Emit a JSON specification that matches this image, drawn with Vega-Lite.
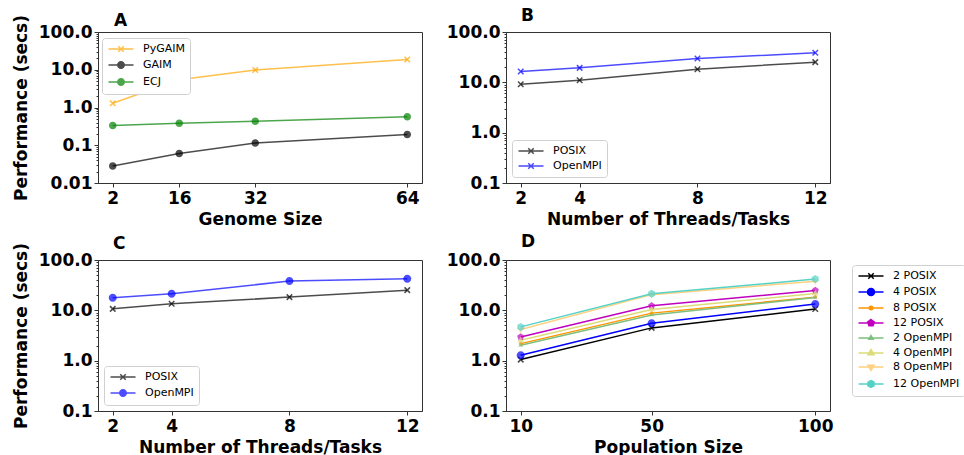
{
  "$schema": "https://vega.github.io/schema/vega-lite/v6.json",
  "autosize": {"type": "pad"},
  "padding": {"left": 11, "top": 6, "right": 5, "bottom": 3},
  "background": "white",
  "config": {
    "font": "DejaVu Sans",
    "view": {"stroke": "#333", "strokeWidth": 1},
    "axis": {"grid": false, "labelFontSize": 17, "labelFontWeight": "bold", "labelColor": "#000", "titleFontSize": 17, "titleFontWeight": "bold", "titleColor": "#000", "domainColor": "#333", "tickColor": "#333", "labelOverlap": false, "labelFlush": false},
    "axisX": {"tickSize": 4, "labelPadding": 3, "titlePadding": 5},
    "axisY": {"labelPadding": 2, "titlePadding": 8},
    "title": {"fontSize": 17, "fontWeight": "bold", "color": "#000"},
    "legend": {"labelFontSize": 11, "labelColor": "#000", "strokeColor": "#d0d0d0", "fillColor": "white", "padding": 5, "cornerRadius": 3, "symbolSize": 100, "rowPadding": 3, "labelOffset": 16, "symbolOffset": 8}
  },
  "datasets": {
    "a": [
      {"genome_size": 2, "seconds": 1.29, "series": "PyGAIM"},
      {"genome_size": 16, "seconds": 5.4, "series": "PyGAIM"},
      {"genome_size": 32, "seconds": 9.9, "series": "PyGAIM"},
      {"genome_size": 64, "seconds": 18.7, "series": "PyGAIM"},
      {"genome_size": 2, "seconds": 0.0283, "series": "GAIM"},
      {"genome_size": 16, "seconds": 0.0605, "series": "GAIM"},
      {"genome_size": 32, "seconds": 0.114, "series": "GAIM"},
      {"genome_size": 64, "seconds": 0.194, "series": "GAIM"},
      {"genome_size": 2, "seconds": 0.336, "series": "ECJ"},
      {"genome_size": 16, "seconds": 0.38, "series": "ECJ"},
      {"genome_size": 32, "seconds": 0.43, "series": "ECJ"},
      {"genome_size": 64, "seconds": 0.569, "series": "ECJ"}
    ],
    "b": [
      {"threads": 2, "seconds": 9.2, "series": "POSIX"},
      {"threads": 4, "seconds": 11.0, "series": "POSIX"},
      {"threads": 8, "seconds": 18.2, "series": "POSIX"},
      {"threads": 12, "seconds": 25.2, "series": "POSIX"},
      {"threads": 2, "seconds": 16.4, "series": "OpenMPI"},
      {"threads": 4, "seconds": 19.4, "series": "OpenMPI"},
      {"threads": 8, "seconds": 29.7, "series": "OpenMPI"},
      {"threads": 12, "seconds": 38.6, "series": "OpenMPI"}
    ],
    "c": [
      {"threads": 2, "seconds": 10.7, "series": "POSIX"},
      {"threads": 4, "seconds": 13.5, "series": "POSIX"},
      {"threads": 8, "seconds": 18.3, "series": "POSIX"},
      {"threads": 12, "seconds": 25.2, "series": "POSIX"},
      {"threads": 2, "seconds": 17.7, "series": "OpenMPI"},
      {"threads": 4, "seconds": 21.3, "series": "OpenMPI"},
      {"threads": 8, "seconds": 38.2, "series": "OpenMPI"},
      {"threads": 12, "seconds": 42.5, "series": "OpenMPI"}
    ],
    "d": [
      {"population": 10, "seconds": 1.05, "series": "2 POSIX"},
      {"population": 50, "seconds": 4.48, "series": "2 POSIX"},
      {"population": 100, "seconds": 10.6, "series": "2 POSIX"},
      {"population": 10, "seconds": 1.28, "series": "4 POSIX"},
      {"population": 50, "seconds": 5.56, "series": "4 POSIX"},
      {"population": 100, "seconds": 13.3, "series": "4 POSIX"},
      {"population": 10, "seconds": 2.18, "series": "8 POSIX"},
      {"population": 50, "seconds": 8.8, "series": "8 POSIX"},
      {"population": 100, "seconds": 18.3, "series": "8 POSIX"},
      {"population": 10, "seconds": 2.96, "series": "12 POSIX"},
      {"population": 50, "seconds": 12.3, "series": "12 POSIX"},
      {"population": 100, "seconds": 24.8, "series": "12 POSIX"},
      {"population": 10, "seconds": 2.02, "series": "2 OpenMPI"},
      {"population": 50, "seconds": 8.1, "series": "2 OpenMPI"},
      {"population": 100, "seconds": 18.0, "series": "2 OpenMPI"},
      {"population": 10, "seconds": 2.55, "series": "4 OpenMPI"},
      {"population": 50, "seconds": 10.4, "series": "4 OpenMPI"},
      {"population": 100, "seconds": 21.6, "series": "4 OpenMPI"},
      {"population": 10, "seconds": 4.15, "series": "8 OpenMPI"},
      {"population": 50, "seconds": 20.5, "series": "8 OpenMPI"},
      {"population": 100, "seconds": 38.0, "series": "8 OpenMPI"},
      {"population": 10, "seconds": 4.69, "series": "12 OpenMPI"},
      {"population": 50, "seconds": 21.3, "series": "12 OpenMPI"},
      {"population": 100, "seconds": 41.7, "series": "12 OpenMPI"}
    ]
  },
  "resolve": {"scale": {"x": "independent", "y": "independent", "color": "independent", "opacity": "independent"}, "legend": {"color": "independent"}},
  "columns": 2,
  "spacing": {"row": 4, "column": 22},
  "concat": [
    {
      "width": 324, "height": 151,
      "title": {"text": "A", "anchor": "start", "frame": "group", "dx": 16, "offset": -16},
      "data": {"name": "a"},
      "encoding": {
        "x": {"field": "genome_size", "type": "quantitative", "scale": {"domain": [-1.1, 67.1], "nice": false, "zero": false}, "axis": {"values": [2, 16, 32, 64], "title": "Genome Size"}},
        "y": {"field": "seconds", "type": "quantitative", "scale": {"type": "log", "domain": [0.01, 100], "nice": false},
          "axis": {"title": "Performance (secs)", "values": [0.01,0.02,0.03,0.04,0.05,0.06,0.07,0.08,0.09,0.1,0.2,0.3,0.4,0.5,0.6,0.7,0.8,0.9,1,2,3,4,5,6,7,8,9,10,20,30,40,50,60,70,80,90,100],
            "labelExpr": "abs(log(datum.value)/LN10 - round(log(datum.value)/LN10)) < 0.001 ? (datum.value < 0.05 ? format(datum.value, '.2f') : format(datum.value, '.1f')) : ''",
            "tickSize": {"condition": {"test": "abs(log(datum.value)/LN10 - round(log(datum.value)/LN10)) < 0.001", "value": 4}, "value": 2}}},
        "color": {"field": "series", "type": "nominal", "scale": {"domain": ["PyGAIM", "GAIM", "ECJ"], "range": ["#ffa500", "#000000", "#008000"]},
          "legend": {"title": null, "orient": "none", "legendX": 4, "legendY": 6,
            "encode": {"symbols": {"update": {
              "shape": {"signal": "datum.value === 'PyGAIM' ? 'M-2.5,0H2.5M-0.55,-0.55L0.55,0.55M-0.55,0.55L0.55,-0.55' : 'M-2.5,0H2.5M0.65,0A0.65,0.65,0,1,1,-0.65,0A0.65,0.65,0,1,1,0.65,0Z'"},
              "fill": {"signal": "datum.value === 'PyGAIM' ? '#ffa500' : datum.value === 'GAIM' ? '#000000' : '#008000'"},
              "stroke": {"signal": "datum.value === 'PyGAIM' ? '#ffa500' : datum.value === 'GAIM' ? '#000000' : '#008000'"},
              "opacity": {"value": 0.7}, "fillOpacity": {"value": 1}, "strokeWidth": {"value": 1.5}}}}}},
        "opacity": {"field": "series", "type": "nominal", "scale": {"domain": ["PyGAIM", "GAIM", "ECJ"], "range": [0.7, 0.7, 0.7]}, "legend": null}
      },
      "layer": [
        {"mark": {"type": "line", "strokeWidth": 1.5}},
        {"transform": [{"filter": {"field": "series", "equal": "PyGAIM"}}], "mark": {"type": "point", "filled": true, "size": 100, "strokeWidth": 1.5, "stroke": "#ffa500", "shape": "M-0.55,-0.55L0.55,0.55M-0.55,0.55L0.55,-0.55"}},
        {"transform": [{"filter": {"field": "series", "oneOf": ["GAIM", "ECJ"]}}], "mark": {"type": "point", "filled": true, "size": 100, "strokeWidth": 0, "shape": "M0.75,0A0.75,0.75,0,1,1,-0.75,0A0.75,0.75,0,1,1,0.75,0Z"}}
      ]
    },
    {
      "width": 324, "height": 151,
      "title": {"text": "B", "anchor": "start", "frame": "group", "dx": 15, "offset": -2},
      "data": {"name": "b"},
      "encoding": {
        "x": {"field": "threads", "type": "quantitative", "scale": {"domain": [1.5, 12.5], "nice": false, "zero": false}, "axis": {"values": [2, 4, 8, 12], "title": "Number of Threads/Tasks"}},
        "y": {"field": "seconds", "type": "quantitative", "scale": {"type": "log", "domain": [0.1, 100], "nice": false},
          "axis": {"title": null, "values": [0.1,0.2,0.3,0.4,0.5,0.6,0.7,0.8,0.9,1,2,3,4,5,6,7,8,9,10,20,30,40,50,60,70,80,90,100],
            "labelExpr": "abs(log(datum.value)/LN10 - round(log(datum.value)/LN10)) < 0.001 ? format(datum.value, '.1f') : ''",
            "tickSize": {"condition": {"test": "abs(log(datum.value)/LN10 - round(log(datum.value)/LN10)) < 0.001", "value": 4}, "value": 2}}},
        "color": {"field": "series", "type": "nominal", "scale": {"domain": ["POSIX", "OpenMPI"], "range": ["#000000", "#0000ff"]},
          "legend": {"title": null, "orient": "bottom-left", "offset": 6,
            "encode": {"symbols": {"update": {
              "shape": {"value": "M-2.5,0H2.5M-0.55,-0.55L0.55,0.55M-0.55,0.55L0.55,-0.55"},
              "fill": {"signal": "datum.value === 'POSIX' ? '#000000' : '#0000ff'"},
              "stroke": {"signal": "datum.value === 'POSIX' ? '#000000' : '#0000ff'"},
              "opacity": {"value": 0.7}, "fillOpacity": {"value": 1}, "strokeWidth": {"value": 1.5}}}}}},
        "opacity": {"field": "series", "type": "nominal", "scale": {"domain": ["POSIX", "OpenMPI"], "range": [0.7, 0.7]}, "legend": null}
      },
      "layer": [
        {"mark": {"type": "line", "strokeWidth": 1.5}},
        {"transform": [{"filter": {"field": "series", "equal": "POSIX"}}], "mark": {"type": "point", "filled": true, "size": 100, "strokeWidth": 1.5, "stroke": "#000000", "shape": "M-0.55,-0.55L0.55,0.55M-0.55,0.55L0.55,-0.55"}},
        {"transform": [{"filter": {"field": "series", "equal": "OpenMPI"}}], "mark": {"type": "point", "filled": true, "size": 100, "strokeWidth": 1.5, "stroke": "#0000ff", "shape": "M-0.55,-0.55L0.55,0.55M-0.55,0.55L0.55,-0.55"}}
      ]
    },
    {
      "width": 324, "height": 151,
      "title": {"text": "C", "anchor": "start", "frame": "group", "dx": 15, "offset": -11},
      "data": {"name": "c"},
      "encoding": {
        "x": {"field": "threads", "type": "quantitative", "scale": {"domain": [1.5, 12.5], "nice": false, "zero": false}, "axis": {"values": [2, 4, 8, 12], "title": "Number of Threads/Tasks"}},
        "y": {"field": "seconds", "type": "quantitative", "scale": {"type": "log", "domain": [0.1, 100], "nice": false},
          "axis": {"title": "Performance (secs)", "values": [0.1,0.2,0.3,0.4,0.5,0.6,0.7,0.8,0.9,1,2,3,4,5,6,7,8,9,10,20,30,40,50,60,70,80,90,100],
            "labelExpr": "abs(log(datum.value)/LN10 - round(log(datum.value)/LN10)) < 0.001 ? format(datum.value, '.1f') : ''",
            "tickSize": {"condition": {"test": "abs(log(datum.value)/LN10 - round(log(datum.value)/LN10)) < 0.001", "value": 4}, "value": 2}}},
        "color": {"field": "series", "type": "nominal", "scale": {"domain": ["POSIX", "OpenMPI"], "range": ["#000000", "#0000ff"]},
          "legend": {"title": null, "orient": "bottom-left", "offset": 6,
            "encode": {"symbols": {"update": {
              "shape": {"signal": "datum.value === 'POSIX' ? 'M-2.5,0H2.5M-0.55,-0.55L0.55,0.55M-0.55,0.55L0.55,-0.55' : 'M-2.5,0H2.5M0.65,0A0.65,0.65,0,1,1,-0.65,0A0.65,0.65,0,1,1,0.65,0Z'"},
              "fill": {"signal": "datum.value === 'POSIX' ? '#000000' : '#0000ff'"},
              "stroke": {"signal": "datum.value === 'POSIX' ? '#000000' : '#0000ff'"},
              "opacity": {"value": 0.7}, "fillOpacity": {"value": 1}, "strokeWidth": {"value": 1.5}}}}}},
        "opacity": {"field": "series", "type": "nominal", "scale": {"domain": ["POSIX", "OpenMPI"], "range": [0.7, 0.7]}, "legend": null}
      },
      "layer": [
        {"mark": {"type": "line", "strokeWidth": 1.5}},
        {"transform": [{"filter": {"field": "series", "equal": "POSIX"}}], "mark": {"type": "point", "filled": true, "size": 100, "strokeWidth": 1.5, "stroke": "#000000", "shape": "M-0.55,-0.55L0.55,0.55M-0.55,0.55L0.55,-0.55"}},
        {"transform": [{"filter": {"field": "series", "equal": "OpenMPI"}}], "mark": {"type": "point", "filled": true, "size": 100, "strokeWidth": 0, "shape": "M0.8,0A0.8,0.8,0,1,1,-0.8,0A0.8,0.8,0,1,1,0.8,0Z"}}
      ]
    },
    {
      "width": 324, "height": 151,
      "title": {"text": "D", "anchor": "start", "frame": "group", "dx": 15, "offset": 0},
      "data": {"name": "d"},
      "encoding": {
        "x": {"field": "population", "type": "quantitative", "scale": {"domain": [5.5, 104.5], "nice": false, "zero": false}, "axis": {"values": [10, 50, 100], "title": "Population Size"}},
        "y": {"field": "seconds", "type": "quantitative", "scale": {"type": "log", "domain": [0.1, 100], "nice": false},
          "axis": {"title": null, "values": [0.1,0.2,0.3,0.4,0.5,0.6,0.7,0.8,0.9,1,2,3,4,5,6,7,8,9,10,20,30,40,50,60,70,80,90,100],
            "labelExpr": "abs(log(datum.value)/LN10 - round(log(datum.value)/LN10)) < 0.001 ? format(datum.value, '.1f') : ''",
            "tickSize": {"condition": {"test": "abs(log(datum.value)/LN10 - round(log(datum.value)/LN10)) < 0.001", "value": 4}, "value": 2}}},
        "color": {"field": "series", "type": "nominal", "scale": {"domain": ["2 POSIX", "4 POSIX", "8 POSIX", "12 POSIX", "2 OpenMPI", "4 OpenMPI", "8 OpenMPI", "12 OpenMPI"], "range": ["#000000", "#0000ff", "#ff9500", "#bf00bf", "#7fbf7f", "#dcdc7a", "#ffd080", "#55d2c6"]},
          "legend": {"title": null, "orient": "none", "legendX": 346, "legendY": 5,
            "encode": {"symbols": {"update": {
              "shape": {"signal": "datum.value === '2 POSIX' ? 'M-2.5,0H2.5M-0.55,-0.55L0.55,0.55M-0.55,0.55L0.55,-0.55' : datum.value === '4 POSIX' ? 'M-2.5,0H2.5M0.7,0A0.7,0.7,0,1,1,-0.7,0A0.7,0.7,0,1,1,0.7,0Z' : datum.value === '8 POSIX' ? 'M-2.5,0H2.5M0.35,0A0.35,0.35,0,1,1,-0.35,0A0.35,0.35,0,1,1,0.35,0Z' : datum.value === '12 POSIX' ? 'M-2.5,0H2.5M0,-0.7L0.666,-0.216L0.411,0.566L-0.411,0.566L-0.666,-0.216Z' : datum.value === '2 OpenMPI' ? 'M-2.5,0H2.5M0,-0.5L0.433,0.25L-0.433,0.25Z' : datum.value === '4 OpenMPI' ? 'M-2.5,0H2.5M0,-0.7L0.606,0.35L-0.606,0.35Z' : datum.value === '8 OpenMPI' ? 'M-2.5,0H2.5M0,0.7L0.606,-0.35L-0.606,-0.35Z' : 'M-2.5,0H2.5M0,-0.7L0.606,-0.35L0.606,0.35L0,0.7L-0.606,0.35L-0.606,-0.35Z'"},
              "fill": {"signal": "datum.value === '2 POSIX' ? '#000000' : datum.value === '4 POSIX' ? '#0000ff' : datum.value === '8 POSIX' ? '#ff9500' : datum.value === '12 POSIX' ? '#bf00bf' : datum.value === '2 OpenMPI' ? '#7fbf7f' : datum.value === '4 OpenMPI' ? '#dcdc7a' : datum.value === '8 OpenMPI' ? '#ffd080' : '#55d2c6'"},
              "stroke": {"signal": "datum.value === '2 POSIX' ? '#000000' : datum.value === '4 POSIX' ? '#0000ff' : datum.value === '8 POSIX' ? '#ff9500' : datum.value === '12 POSIX' ? '#bf00bf' : datum.value === '2 OpenMPI' ? '#7fbf7f' : datum.value === '4 OpenMPI' ? '#dcdc7a' : datum.value === '8 OpenMPI' ? '#ffd080' : '#55d2c6'"},
              "opacity": {"value": 1},
              "fillOpacity": {"value": 1}, "strokeWidth": {"value": 1.5}}}}}}
      },
      "layer": [
        {"mark": {"type": "line", "strokeWidth": 1.5}},
        {"transform": [{"filter": {"field": "series", "equal": "2 POSIX"}}], "mark": {"type": "point", "filled": true, "size": 100, "strokeWidth": 1.5, "stroke": "#000000", "shape": "M-0.55,-0.55L0.55,0.55M-0.55,0.55L0.55,-0.55"}},
        {"transform": [{"filter": {"field": "series", "equal": "4 POSIX"}}], "mark": {"type": "point", "filled": true, "size": 100, "strokeWidth": 0, "shape": "M0.8,0A0.8,0.8,0,1,1,-0.8,0A0.8,0.8,0,1,1,0.8,0Z"}},
        {"transform": [{"filter": {"field": "series", "equal": "8 POSIX"}}], "mark": {"type": "point", "filled": true, "size": 100, "strokeWidth": 0, "shape": "M0.4,0A0.4,0.4,0,1,1,-0.4,0A0.4,0.4,0,1,1,0.4,0Z"}},
        {"transform": [{"filter": {"field": "series", "equal": "12 POSIX"}}], "mark": {"type": "point", "filled": true, "size": 100, "strokeWidth": 0, "shape": "M0,-0.75L0.713,-0.232L0.441,0.607L-0.441,0.607L-0.713,-0.232Z"}},
        {"transform": [{"filter": {"field": "series", "equal": "2 OpenMPI"}}], "mark": {"type": "point", "filled": true, "size": 100, "strokeWidth": 0, "shape": "M0,-0.55L0.476,0.275L-0.476,0.275Z"}},
        {"transform": [{"filter": {"field": "series", "equal": "4 OpenMPI"}}], "mark": {"type": "point", "filled": true, "size": 100, "strokeWidth": 0, "shape": "M0,-0.75L0.65,0.375L-0.65,0.375Z"}},
        {"transform": [{"filter": {"field": "series", "equal": "8 OpenMPI"}}], "mark": {"type": "point", "filled": true, "size": 100, "strokeWidth": 0, "shape": "M0,0.75L0.65,-0.375L-0.65,-0.375Z"}},
        {"transform": [{"filter": {"field": "series", "equal": "12 OpenMPI"}}], "mark": {"type": "point", "filled": true, "size": 100, "strokeWidth": 0, "shape": "M0,-0.8L0.693,-0.4L0.693,0.4L0,0.8L-0.693,0.4L-0.693,-0.4Z"}}
      ]
    }
  ]
}
